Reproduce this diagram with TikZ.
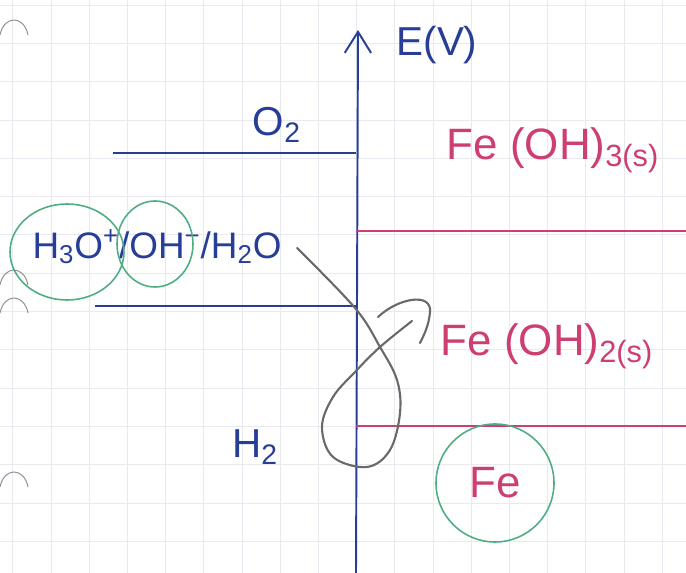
\documentclass[tikz,border=0pt]{standalone}
\usepackage{fontspec}
\setmainfont{Liberation Sans}
\usepackage{tikz}
\usetikzlibrary{
  positioning,
  arrows.meta,
  calc
}
\definecolor{PenBlue}{RGB}{40,62,150}
\definecolor{PenPink}{RGB}{205,62,115}
\definecolor{PenGreen}{RGB}{80,172,130}
\definecolor{PenGray}{RGB}{105,105,105}
\definecolor{GridGray}{RGB}{232,234,240}
\definecolor{HoleGray}{RGB}{150,150,150}

\begin{document}
\begin{tikzpicture}[x=0.02cm,y=-0.02cm,
  level/.style={line width=1.1pt,PenBlue},
  felevel/.style={line width=1.1pt,PenPink},
  blab/.style={PenBlue,font=\fontsize{23}{27}\selectfont,inner sep=1pt},
  plab/.style={PenPink,font=\fontsize{25}{29}\selectfont,inner sep=1pt},
  ring/.style={PenGreen,line width=0.9pt},
  garr/.style={PenGray,line width=1.2pt,line cap=round},
]
\useasboundingbox (0,0) rectangle (686,573);
\clip (0,0) rectangle (686,573);

% —— papier quadrillé ——
\foreach \gx in {0,...,17}
  \draw[GridGray,line width=0.4pt] ({12.8+38.2*\gx},0) -- ++(0,573);
\foreach \gy in {0,...,15}
  \draw[GridGray,line width=0.4pt] (0,{5+38.3*\gy}) -- ++(686,0);
\foreach \hy in {35,285,313,487}
  \draw[HoleGray,line width=0.6pt] (0,\hy) .. controls (4,{\hy-20}) and (24,{\hy-20}) .. (28,\hy);

% —— axe E ——
\coordinate (axbot) at (356,573);
\coordinate (axtop) at (358,30);
\draw[level,-{Straight Barb[length=12pt,width=15pt]}] (axbot) -- (axtop);
\node[blab] (elab) at (437,45) {E(V)};

% —— couples de l'eau ——
\node[blab] (o2) at (277,125) {O\textsubscript{2}};
\coordinate (o2l) at (113,153);
\draw[level] (o2l) -- (o2l -| axbot);
\node[blab,font=\fontsize{21}{25}\selectfont] (water) at (157,247)
  {H\textsubscript{3}O\textsuperscript{+}/OH\textsuperscript{−}/H\textsubscript{2}O};
\coordinate (h2l) at (95,306);
\draw[level] (h2l) -- (h2l -| axbot);
\node[blab] (h2) at (255,447) {H\textsubscript{2}};

% —— couples du fer ——
\coordinate (fe3l) at (686,231);
\draw[felevel] (fe3l -| axbot) -- (fe3l);
\coordinate (fe2l) at (686,426);
\draw[felevel] (fe2l -| axbot) -- (fe2l);
\node[plab] (feoh3) at (553,150) {Fe (OH)\textsubscript{3(s)}};
\node[plab] (feoh2) at (547,346) {Fe (OH)\textsubscript{2(s)}};
\node[plab] (fe) at (495,483) {Fe};

% —— entourages ——
\draw[ring] (67,252) ellipse [x radius=57,y radius=48];
\draw[ring] (155,244) ellipse [x radius=38,y radius=43];
\draw[ring] (fe) circle [radius=59];

% —— boucle ——
\coordinate (gstart) at (297,248);
\coordinate (gend) at (412,321);
\draw[garr] plot[smooth,tension=0.6] coordinates {(gstart) (355,308) (380,347)
  (397,380) (400,413) (390,450) (367,467) (333,457) (322,427) (333,397)
  (355,372) (380,347) (gend)};
\draw[garr] (378,317) .. controls (398,298) and (432,292) .. (430,312)
  .. controls (429,325) and (424,335) .. (420,343);
\end{tikzpicture}
\end{document}
